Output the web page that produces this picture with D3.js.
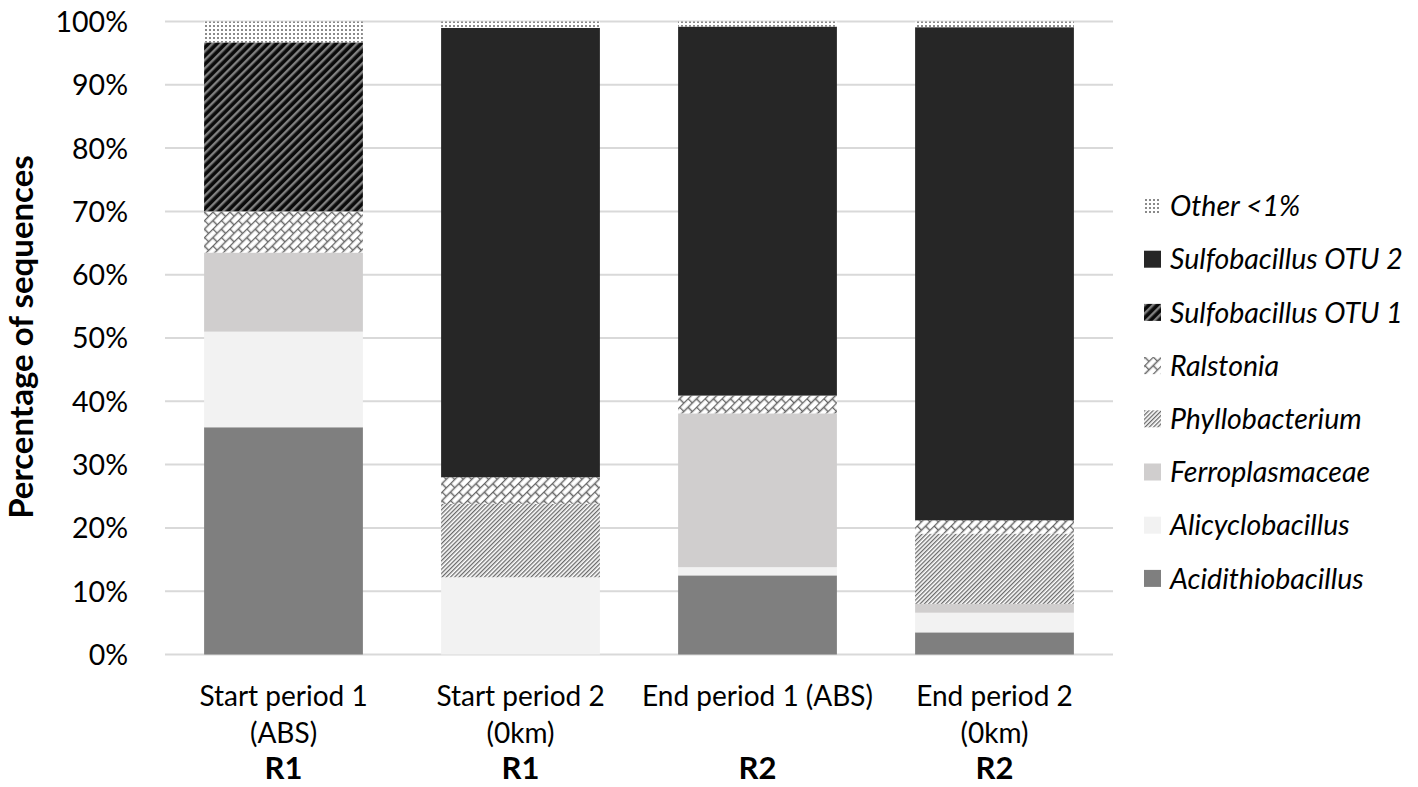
<!DOCTYPE html>
<html>
<head>
<meta charset="utf-8">
<script src="https://cdn.jsdelivr.net/npm/d3@7"></script>
<style>
  body { margin: 0; background: #fff; }
  svg text { font-family: Lato, "Open Sans", sans-serif; fill: #000; }
</style>
</head>
<body>
<div id="chart"></div>
<script>
// categories (x axis), split into lines as in the original
const categories = ["Start period 1 (ABS)", "Start period 2 (0km)", "End period 1 (ABS)", "End period 2 (0km)"];
const labelLines = [["Start period 1", "(ABS)"], ["Start period 2", "(0km)"], ["End period 1 (ABS)"], ["End period 2", "(0km)"]];
const reactors = ["R1", "R1", "R2", "R2"];

// series, bottom to top, values in %
const seriesNames = ["Acidithiobacillus", "Alicyclobacillus", "Ferroplasmaceae", "Phyllobacterium",
  "Ralstonia", "Sulfobacillus OTU 1", "Sulfobacillus OTU 2", "Other <1%"];
const acidithiobacillus = [35.9, 0, 12.5, 3.5];
const alicyclobacillus = [15.1, 12.2, 1.3, 3.1];
const ferroplasmaceae = [12.5, 0, 24.3, 1.4];
const phyllobacterium = [0, 11.6, 0, 11.1];
const ralstonia = [6.5, 4.2, 2.8, 2.1];
const sulfoOtu1 = [26.7, 0, 0, 0];
const sulfoOtu2 = [0, 71.0, 58.3, 77.9];
const other = [3.3, 1.0, 0.8, 0.9];

const yTicks = [0, 0.1, 0.2, 0.3, 0.4, 0.5, 0.6, 0.7, 0.8, 0.9, 1];

const seriesValues = [acidithiobacillus, alicyclobacillus, ferroplasmaceae, phyllobacterium,
  ralstonia, sulfoOtu1, sulfoOtu2, other];

// build table for d3.stack
const table = categories.map((c, i) => {
  const row = { cat: c };
  seriesNames.forEach((s, j) => row[s] = seriesValues[j][i] / 100);
  return row;
});

const W = 1418, H = 787;
const plotLeft = 165, plotRight = 1113, plotTop = 21.5, plotBottom = 654.5;

const svg = d3.select("#chart").append("svg")
  .attr("width", W)
  .attr("height", H);

// patterns
const defs = svg.append("defs");

// Other: fine dots
const pOther = defs.append("pattern").attr("id", "p-other")
  .attr("patternUnits", "userSpaceOnUse").attr("width", 4).attr("height", 4);
pOther.append("rect").attr("width", 4).attr("height", 4).attr("fill", "#fff");
pOther.append("rect").attr("x", 1).attr("y", 1).attr("width", 2).attr("height", 2).attr("fill", "#8a8a8a");

// Sulfobacillus OTU 1: wide upward diagonal, gray on black
const pOtu1 = defs.append("pattern").attr("id", "p-otu1")
  .attr("patternUnits", "userSpaceOnUse").attr("width", 6).attr("height", 6)
  .attr("patternTransform", "rotate(45)");
pOtu1.append("rect").attr("width", 6).attr("height", 6).attr("fill", "#0a0a0a");
pOtu1.append("rect").attr("x", 0).attr("width", 2.4).attr("height", 6).attr("fill", "#808080");

// Ralstonia: diagonal bricks
const pRal = defs.append("pattern").attr("id", "p-ral")
  .attr("patternUnits", "userSpaceOnUse").attr("width", 12).attr("height", 12)
  .attr("patternTransform", "rotate(-45)");
pRal.append("rect").attr("width", 12).attr("height", 12).attr("fill", "#fff");
pRal.append("path")
  .attr("d", "M0,0.5H12M0,6.5H12M0.5,0V6.5M6.5,6.5V12.5")
  .attr("stroke", "#666").attr("stroke-width", 1.5).attr("fill", "none");

// Phyllobacterium: thin dark upward diagonal
const pPhy = defs.append("pattern").attr("id", "p-phy")
  .attr("patternUnits", "userSpaceOnUse").attr("width", 3).attr("height", 3)
  .attr("patternTransform", "rotate(45)");
pPhy.append("rect").attr("width", 3).attr("height", 3).attr("fill", "#fff");
pPhy.append("rect").attr("width", 1.3).attr("height", 3).attr("fill", "#6a6a6a");

const fills = {
  "Acidithiobacillus": "#7f7f7f",
  "Alicyclobacillus": "#f2f2f2",
  "Ferroplasmaceae": "#d0cece",
  "Phyllobacterium": "url(#p-phy)",
  "Ralstonia": "url(#p-ral)",
  "Sulfobacillus OTU 1": "url(#p-otu1)",
  "Sulfobacillus OTU 2": "#262626",
  "Other <1%": "url(#p-other)"
};

const x = d3.scaleBand().domain(categories).range([plotLeft, plotRight]).paddingInner(0.33).paddingOuter(0.165);
const y = d3.scaleLinear().domain([0, 1]).range([plotBottom, plotTop]);

// gridlines
svg.append("g").selectAll("line").data(yTicks).join("line")
  .attr("x1", plotLeft).attr("x2", plotRight)
  .attr("y1", d => y(d)).attr("y2", d => y(d))
  .attr("stroke", "#d9d9d9").attr("stroke-width", 2);

// y axis labels
const yAxis = d3.axisLeft(y).tickValues(yTicks).tickFormat(d3.format(".0%")).tickSize(0).tickPadding(37);
const yg = svg.append("g").attr("transform", `translate(${plotLeft},0)`).call(yAxis);
yg.select(".domain").remove();
yg.selectAll("text").style("font-size", "28.5px").attr("dy", "0.35em").attr("fill", "#000");

// stacked bars
const stacked = d3.stack().keys(seriesNames)(table);
svg.append("g").selectAll("g").data(stacked).join("g")
  .attr("fill", d => fills[d.key])
  .selectAll("rect").data(d => d).join("rect")
  .attr("x", d => x(d.data.cat))
  .attr("width", x.bandwidth())
  .attr("y", d => y(d[1]))
  .attr("height", d => y(d[0]) - y(d[1]));

// x labels
const xl = svg.append("g").selectAll("g").data(categories).join("g")
  .attr("transform", d => `translate(${x(d) + x.bandwidth() / 2},0)`);
xl.each(function(d, i) {
  const g = d3.select(this);
  labelLines[i].forEach((line, k) => {
    g.append("text").attr("y", 706 + k * 37).attr("text-anchor", "middle")
      .style("font-size", "28px").text(line);
  });
  g.append("text").attr("y", 779).attr("text-anchor", "middle")
    .style("font-size", "31px").style("font-weight", "bold").text(reactors[i]);
});

// y title
svg.append("text")
  .attr("transform", "translate(33,337) rotate(-90)")
  .attr("text-anchor", "middle")
  .style("font-size", "33px").style("font-weight", "bold")
  .text("Percentage of sequences");

// legend (top to bottom = reverse stack order)
const legendItems = seriesNames.slice().reverse();
const lg = svg.append("g").selectAll("g").data(legendItems).join("g")
  .attr("transform", (d, i) => `translate(1144,${206 + i * 53.2})`);
lg.append("rect").attr("x", 0).attr("y", -8.5).attr("width", 17).attr("height", 17)
  .attr("fill", d => fills[d]);
lg.append("text").attr("x", 26).attr("dy", "0.36em")
  .style("font-size", "28.5px").style("font-style", "italic")
  .text(d => d);
</script>
</body>
</html>
